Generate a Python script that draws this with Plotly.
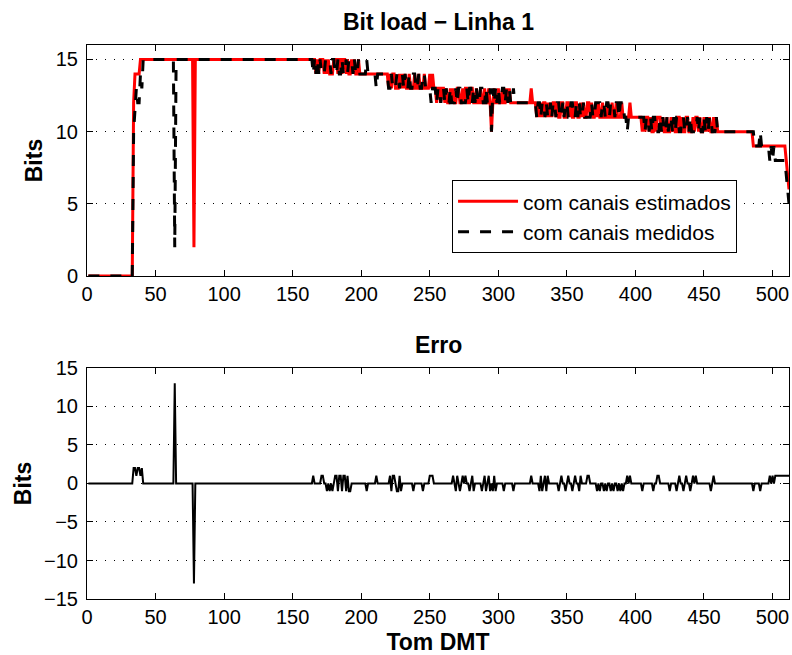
import plotly.graph_objects as go
from plotly.subplots import make_subplots

# Tones 1..512 (DMT tones)
tons = list(range(1, 513))

# Bit load with estimated channels (red), read region by region
est_1_41 = [0] * 33 + [12, 14, 14, 14, 14, 15, 15, 15]
est_42_163 = [15] * 22 + [15] + [15] * 13 + [2] + [15] * 85
est_164_200 = [15, 15, 15, 14, 15, 14, 15, 15, 15, 14, 15, 14, 15, 14, 14, 14, 15, 15, 15,
               14, 15, 15, 14, 15, 15, 14, 15, 14, 14, 15, 14, 15, 14, 14, 15, 14, 14]
est_201_219 = [14] * 19
est_220_260 = [13, 14, 13, 14, 14, 13, 13, 13, 14, 13, 14, 13, 14, 13, 13, 14, 13, 13, 13, 14,
               13, 13, 14, 13, 13, 13, 14, 13, 13, 13, 14, 13, 14, 13, 13, 12, 13, 13, 12, 13, 13]
est_261_326 = [12, 13, 12, 12, 13, 12, 13, 12, 12, 13, 13, 12, 12, 13, 12, 13, 13, 12, 12, 13,
               13, 12, 12, 13, 12, 12, 13, 12, 12, 13, 12, 12, 13, 12, 10, 12, 13, 12, 12, 13,
               12, 12, 13, 12, 12, 13, 12, 13, 12, 12, 12, 12] + [12] * 11 + [13, 12, 12]
est_327_403 = [12, 11, 12, 11, 12, 11, 12, 12, 11, 12, 11, 12, 11, 12, 12, 11, 12, 11, 11, 12,
               12, 11, 11, 12, 12, 11, 12, 11, 11, 12, 12, 11, 11, 12, 11, 12, 11, 11, 12, 12,
               11, 12, 11, 11, 12, 11, 12, 11, 11, 12, 11, 11, 11, 12, 11, 11, 12, 11, 11, 12,
               11, 11, 11, 12, 11, 11, 11, 11, 11, 12] + [11] * 7
est_404_461 = [11, 10, 11, 10, 11, 11, 10, 11, 10, 10, 11, 10, 11, 11, 11, 10, 11, 10, 10, 11,
               10, 10, 11, 10, 11, 10, 10, 11, 11, 10, 11, 10, 10, 11, 11, 10, 10, 10, 11, 10,
               11, 11, 10, 11, 10, 10, 11, 10, 11, 10, 11, 10, 10, 11, 10, 11, 10, 10]
est_462_512 = [10] * 24 + [9, 9, 9, 9, 9, 9] + [9] * 6 + [9, 9, 9, 9, 9] + [9] * 6 + [9, 8, 7, 6]

# Bit load with measured channels (black dashed)
med_1_41 = [0] * 33 + [10, 12, 13, 12, 12, 14, 13, 15]
med_42_163 = [15] * 22 + [2] + [15] * 13 + [15] + [15] * 85
med_164_200 = [15, 14, 15, 14, 15, 14, 15, 14, 14, 14, 15, 15, 15, 15, 14, 15, 15, 14, 14,
               15, 14, 14, 15, 14, 14, 15, 14, 15, 15, 15, 14, 15, 14, 14, 15, 14, 14]
med_201_219 = [14, 14, 14, 15, 14, 14, 14, 14, 14, 14, 13, 14, 14, 14, 14, 14, 14, 14, 14]
med_220_260 = [13, 13, 14, 13, 13, 13, 14, 14, 13, 14, 14, 13, 14, 13, 13, 14, 13, 13, 14, 14,
               13, 13, 14, 13, 13, 14, 14, 13, 13, 13, 13, 12, 13, 13, 13, 12, 13, 13, 12, 13, 13]
med_261_326 = [12, 13, 12, 12, 13, 12, 12, 12, 13, 12, 13, 13, 12, 12, 12, 12, 13, 12, 13, 13,
               12, 13, 12, 13, 12, 12, 13, 13, 12, 12, 13, 12, 12, 13, 10, 13, 12, 13, 12, 13,
               12, 12, 13, 13, 12, 13, 12, 13, 12, 12, 13, 12] + [12] * 11 + [12, 12, 12]
med_327_403 = [12, 11, 12, 12, 11, 12, 12, 11, 12, 11, 11, 12, 11, 12, 12, 11, 12, 12, 11, 11,
               12, 11, 12, 12, 11, 11, 12, 12, 11, 11, 12, 11, 12, 11, 11, 12, 11, 11, 11, 11,
               11, 12, 11, 11, 12, 12, 12, 12, 11, 12, 12, 11, 12, 12, 11, 12, 12, 12, 11, 12,
               12, 11, 12, 12, 12, 11, 11, 10, 11, 11] + [11] * 7
med_404_461 = [11, 11, 11, 10, 11, 11, 10, 11, 10, 11, 11, 10, 10, 10, 11, 10, 11, 10, 10, 11,
               10, 11, 11, 10, 11, 10, 11, 11, 10, 10, 11, 11, 10, 10, 11, 10, 11, 10, 10, 10,
               10, 11, 10, 11, 10, 10, 11, 10, 11, 10, 11, 11, 10, 10, 10, 11, 10, 10]
med_462_512 = [10] * 24 + [10, 9, 9, 9, 9, 10] + [9] * 6 + [8, 9, 8, 9, 8] + [8] * 6 + [8, 7, 6, 5]

estimado = (est_1_41 + est_42_163 + est_164_200 + est_201_219 + est_220_260
            + est_261_326 + est_327_403 + est_404_461 + est_462_512)
medido = (med_1_41 + med_42_163 + med_164_200 + med_201_219 + med_220_260
          + med_261_326 + med_327_403 + med_404_461 + med_462_512)
assert len(estimado) == 512 and len(medido) == 512, (len(estimado), len(medido))

erro = [e - m for e, m in zip(estimado, medido)]

x_ticks = [0, 50, 100, 150, 200, 250, 300, 350, 400, 450, 500]
y1_ticks = [0, 5, 10, 15]
y2_ticks = [-15, -10, -5, 0, 5, 10, 15]

FONT = "Liberation Sans, Arial, Helvetica, sans-serif"
TICK_SIZE = 20
LEGEND_SIZE = 21
LABEL_SIZE = 23

fig = make_subplots(rows=2, cols=1, vertical_spacing=0.166)

fig.add_trace(go.Scatter(x=tons, y=estimado, mode="lines", name="com canais estimados",
                         line=dict(color="#ff0000", width=3)), row=1, col=1)
fig.add_trace(go.Scatter(x=tons, y=medido, mode="lines", name="com canais medidos",
                         line=dict(color="#000000", width=3, dash="11px,11px")), row=1, col=1)
fig.add_trace(go.Scatter(x=tons, y=erro, mode="lines", showlegend=False,
                         line=dict(color="#000000", width=2)), row=2, col=1)

axis_common = dict(showline=True, linecolor="black", linewidth=1, mirror="ticks",
                   ticks="inside", ticklen=6, tickcolor="black", zeroline=False,
                   automargin=False,
                   tickfont=dict(family=FONT, size=TICK_SIZE, color="black"))

fig.update_xaxes(range=[0, 512], tickvals=x_ticks, showgrid=False, **axis_common)
fig.update_yaxes(showgrid=True, gridcolor="black", gridwidth=1, griddash="1px,8px",
                 ticklabelstandoff=4, **axis_common)
fig.update_yaxes(range=[0, 16], tickvals=y1_ticks, row=1, col=1,
                 title=dict(text="<b>Bits</b>", font=dict(family=FONT, size=LABEL_SIZE, color="black"), standoff=6))
fig.update_yaxes(range=[-15, 15], tickvals=y2_ticks, row=2, col=1,
                 title=dict(text="<b>Bits</b>", font=dict(family=FONT, size=LABEL_SIZE, color="black"), standoff=6))
fig.update_xaxes(row=2, col=1,
                 title=dict(text="<b>Tom DMT</b>", font=dict(family=FONT, size=LABEL_SIZE, color="black"), standoff=7))

fig.add_annotation(text="<b>Bit load − Linha 1</b>", x=0.5, y=1.0, xref="paper", yref="paper",
                   xanchor="center", yanchor="bottom", yshift=8, showarrow=False,
                   font=dict(family=FONT, size=LABEL_SIZE, color="black"))
fig.add_annotation(text="<b>Erro</b>", x=0.5, y=0.417, xref="paper", yref="paper",
                   xanchor="center", yanchor="bottom", yshift=8, showarrow=False,
                   font=dict(family=FONT, size=LABEL_SIZE, color="black"))

fig.update_layout(
    width=792, height=655,
    margin=dict(l=87, r=3, t=45, b=56),
    paper_bgcolor="white", plot_bgcolor="white",
    font=dict(family=FONT, size=TICK_SIZE, color="black"),
    showlegend=True,
    legend=dict(x=0.52, y=0.756, xanchor="left", yanchor="top",
                bgcolor="white", bordercolor="black", borderwidth=1,
                font=dict(family=FONT, size=LEGEND_SIZE, color="black"),
                itemwidth=60, tracegroupgap=0),
)

fig.write_html("out.html", config={"displayModeBar": False},
               post_script="document.body.style.margin='0';")
